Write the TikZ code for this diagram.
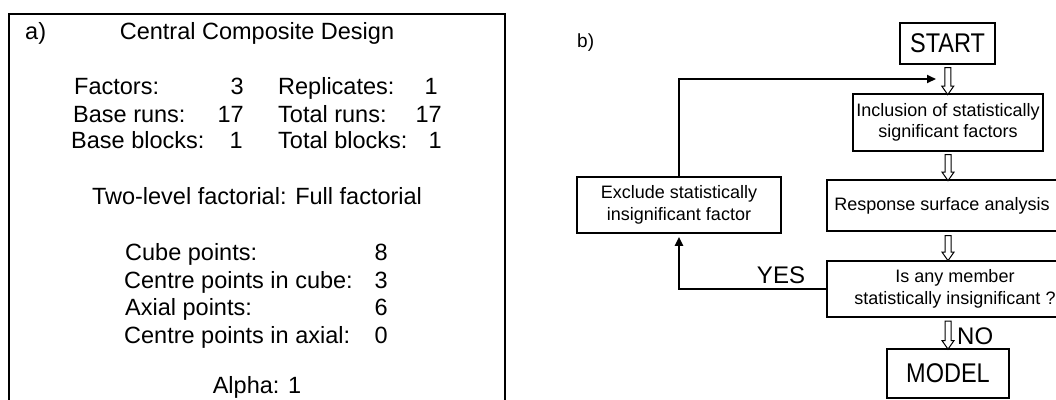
\documentclass[tikz,border=0pt]{standalone}
\usepackage{fontspec}
\setmainfont{Liberation Sans}
\usetikzlibrary{arrows.meta,shapes.arrows,calc}
\tikzset{
  lt/.style={font=\fontsize{23.5bp}{28bp}\selectfont, inner sep=0pt},
  box/.style={draw, line width=1.7bp, inner sep=0pt, align=center,
    font=\fontsize{18bp}{21.5bp}\selectfont},
  bigbox/.style={box, font=\fontsize{23.5bp}{28bp}\selectfont},
  hollow/.style={single arrow, draw, line width=1bp, fill=white, inner sep=2.5bp,
    minimum width=11bp, single arrow head extend=3bp, single arrow tip angle=70,
    shape border rotate=270},
  conn/.style={line width=2bp, -{Triangle[length=9bp,width=8bp]}},
  panelbox/.style={line width=2bp},
}
\begin{document}
\begin{tikzpicture}[x=1bp,y=-1bp]
\useasboundingbox (0,0) rectangle (1056,399);
\fill[white] (0,0) rectangle (1056,399);
\clip (0,0) rectangle (1056,399);
% ---------- panel a ----------
\draw[panelbox] (9,420) -- (9,14) -- (505,14) -- (505,420);
\node[lt, anchor=base west] (alab) at (25,39) {a)};
\node[lt, anchor=base] (title) at (257,39) {Central Composite Design};
\node[lt, anchor=base west] (f1) at (74,94) {Factors:};
\node[lt, anchor=base east] (v1) at (244,94) {3};
\node[lt, anchor=base west] (r1) at (278,94) {Replicates:};
\node[lt, anchor=base east] (w1) at (438,94) {1};
\node[lt, anchor=base west] (f2) at (73,122) {Base runs:};
\node[lt, anchor=base east] (v2) at (244,122) {17};
\node[lt, anchor=base west] (r2) at (278,122) {Total runs:};
\node[lt, anchor=base east] (w2) at (442,122) {17};
\node[lt, anchor=base west] (f3) at (71,148) {Base blocks:};
\node[lt, anchor=base east] (v3) at (243,148) {1};
\node[lt, anchor=base west] (r3) at (278,148) {Total blocks:};
\node[lt, anchor=base east] (w3) at (442,148) {1};
\node[lt, anchor=base] (twol) at (257,204) {Two-level factorial: Full factorial};
\node[lt, anchor=base west] (c1) at (125,260) {Cube points:};
\node[lt, anchor=base east] (d1) at (388,260) {8};
\node[lt, anchor=base west] (c2) at (124,288) {Centre points in cube:};
\node[lt, anchor=base east] (d2) at (388,288) {3};
\node[lt, anchor=base west] (c3) at (125,315) {Axial points:};
\node[lt, anchor=base east] (d3) at (388,315) {6};
\node[lt, anchor=base west] (c4) at (124,343) {Centre points in axial:};
\node[lt, anchor=base east] (d4) at (388,343) {0};
\node[lt, anchor=base] (alpha) at (257,393) {Alpha: 1};
% ---------- panel b ----------
\node[anchor=base west, inner sep=0pt, font=\fontsize{19bp}{22bp}\selectfont] (blab) at (577,47) {b)};
\node[bigbox, minimum width=95bp, minimum height=41bp] (start) at (947.5,43.5) {\scalebox{1}[1.15]{START}};
\node[box, minimum width=190bp, minimum height=57bp] (inc) at (948,122.5) {Inclusion of statistically\\significant factors};
\node[box, minimum width=230bp, minimum height=51bp] (resp) at (942,205.5) {Response surface analysis};
\node[box, minimum width=256bp, minimum height=56bp] (isany) at (955,289) {Is any member\\statistically insignificant ?};
\node[bigbox, minimum width=122bp, minimum height=49bp] (model) at (948,373.5) {\scalebox{1}[1.15]{MODEL}};
\node[box, minimum width=204bp, minimum height=56bp] (exc) at (679,205) {Exclude statistically\\insignificant factor};
% hollow arrows
\node[hollow, minimum height=27bp] (h1) at ($(start.south)!0.5!(inc.north)$) {};
\node[hollow, minimum height=26bp] (h2) at ($(inc.south)!0.5!(inc.south |- resp.north)$) {};
\node[hollow, minimum height=25bp] (h3) at ($(inc.south |- resp.south)!0.5!(inc.south |- isany.north)$) {};
\node[hollow, minimum height=28bp] (h4) at ($(inc.south |- isany.south)!0.5!(model.north)$) {};
% loop connectors
\coordinate (loopend) at (936,79);
\draw[conn] (exc.north) |- (loopend);
\draw[conn, shorten >=3bp] (isany.west) -| (exc.south);
\node[anchor=base, inner sep=0pt, font=\fontsize{24bp}{28bp}\selectfont] (yes) at (781,283) {YES};
\node[anchor=base west, inner sep=0pt, font=\fontsize{24bp}{28bp}\selectfont] (no) at (957,344) {NO};
\end{tikzpicture}
\end{document}
